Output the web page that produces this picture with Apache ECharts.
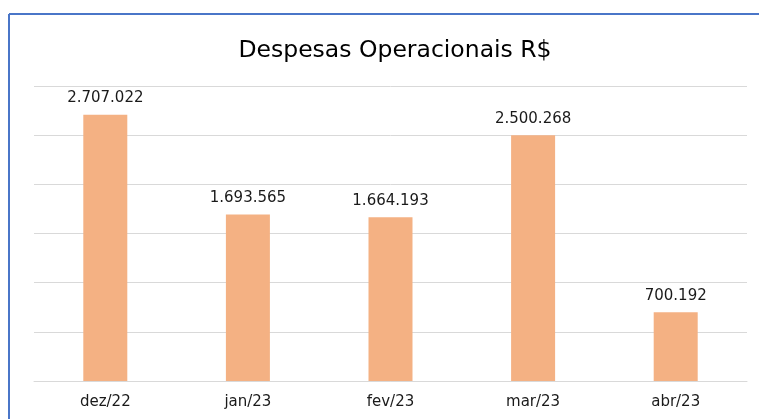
<!DOCTYPE html>
<html>
<head>
<meta charset="utf-8">
<script src="https://cdn.jsdelivr.net/npm/echarts@6/dist/echarts.min.js"></script>
<style>
html, body { margin: 0; padding: 0; background: #fff; }
#chart { width: 759px; height: 419px; }
</style>
</head>
<body>
<div id="chart"></div>
<script>
var months = ['dez/22', 'jan/23', 'fev/23', 'mar/23', 'abr/23'];
var despesas = [2707022, 1693565, 1664193, 2500268, 700192];

function fmtBR(v) {
    return String(v).replace(/\B(?=(\d{3})+(?!\d))/g, '.');
}

var chart = echarts.init(document.getElementById('chart'));
chart.setOption({
    backgroundColor: '#fff',
    animation: false,
    title: {
        text: 'Despesas Operacionais R$',
        left: 390,
        textAlign: 'center',
        top: 34,
        textStyle: {
            fontFamily: 'DejaVu Sans',
            fontWeight: 'normal',
            fontSize: 23.5,
            color: '#000'
        }
    },
    graphic: [
        { type: 'line', shape: { x1: 9, y1: 14, x2: 759, y2: 14 }, style: { stroke: '#4a76c8', lineWidth: 2 } },
        { type: 'line', shape: { x1: 9, y1: 14, x2: 9, y2: 419 }, style: { stroke: '#4a76c8', lineWidth: 2 } }
    ],
    grid: { left: 34, right: 12, top: 86, bottom: 38 },
    xAxis: {
        type: 'category',
        data: months,
        axisLine: { lineStyle: { color: '#d9d9d9', width: 1 } },
        axisTick: { show: false },
        axisLabel: {
            margin: 14,
            fontFamily: 'DejaVu Sans',
            fontSize: 15,
            color: '#1a1a1a'
        }
    },
    yAxis: {
        type: 'value',
        min: 0,
        max: 3000000,
        interval: 500000,
        axisLabel: { show: false },
        axisLine: { show: false },
        axisTick: { show: false },
        splitLine: { lineStyle: { color: '#d9d9d9', width: 1 } }
    },
    series: [{
        type: 'bar',
        data: despesas,
        barWidth: 44,
        itemStyle: { color: '#f4b183' },
        label: {
            show: true,
            position: 'top',
            distance: 9,
            fontFamily: 'DejaVu Sans',
            fontSize: 15,
            color: '#1a1a1a',
            formatter: function (p) { return fmtBR(p.value); }
        }
    }]
});
</script>
</body>
</html>
